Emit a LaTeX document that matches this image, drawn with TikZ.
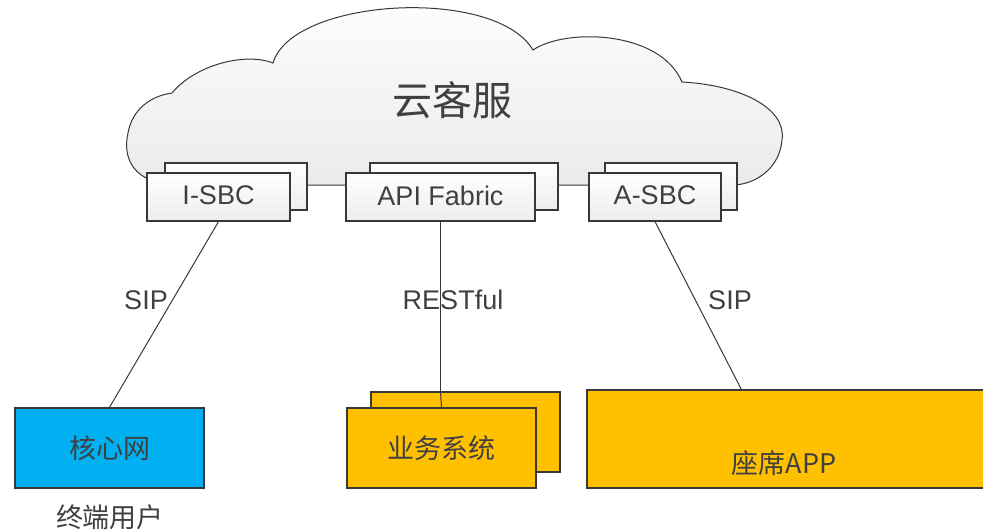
\documentclass[tikz,border=0pt]{standalone}
\usepackage{fontspec}
\setmainfont{Liberation Sans}
\newfontfamily\cjk{Noto Sans CJK SC}
\usetikzlibrary{positioning}
\definecolor{txt}{HTML}{404040}
\definecolor{edge}{HTML}{383838}
\definecolor{netblue}{HTML}{00B0F0}
\definecolor{bizorange}{HTML}{FFC000}
\tikzset{
  graybox/.style={draw=edge, line width=1.3pt, top color=white, bottom color=gray!14,
    inner sep=0pt, text=txt, font=\fontsize{27}{30}\selectfont},
  colbox/.style={draw=edge, line width=1.3pt, inner sep=0pt, text=txt,
    font=\cjk\fontsize{27}{30}\selectfont},
  link/.style={draw=edge, line width=1pt},
  lbl/.style={text=txt, inner sep=0pt, font=\fontsize{27}{30}\selectfont},
}
\begin{document}
\begin{tikzpicture}[x=1pt,y=-1pt]
\useasboundingbox (0,0) rectangle (983,531);
% cloud
\path[draw=edge, line width=1pt, top color=white, bottom color=gray!16]
  (175,185) .. controls (135,183) and (122,160) .. (128,133)
  .. controls (132,110) and (150,96) .. (172,93)
  .. controls (195,65) and (245,52) .. (273,63)
  .. controls (292,-2) and (495,-14) .. (533,50)
  .. controls (565,28) and (660,30) .. (682,82)
  .. controls (740,85) and (787,108) .. (782,140)
  .. controls (780,165) and (760,183) .. (735,185)
  -- cycle;
\node[text=txt, font=\cjk\fontsize{40}{44}\selectfont] (cloudt) at (452,100) {云客服};
% top boxes
\node[graybox, minimum width=142pt, minimum height=47pt] (isbcb) at (236,186.5) {};
\node[graybox, minimum width=143pt, minimum height=48pt, text depth=3pt] (isbc) at (218.5,197) {I-SBC};
\node[graybox, minimum width=188pt, minimum height=47pt] (apib) at (464,186.5) {};
\node[graybox, minimum width=189pt, minimum height=48pt, text depth=3pt] (api) at (440.5,197) {API Fabric};
\node[graybox, minimum width=132pt, minimum height=47pt] (asbcb) at (671,186.5) {};
\node[graybox, minimum width=132pt, minimum height=48pt, text depth=3pt] (asbc) at (655,197) {A-SBC};
% bottom boxes
\node[colbox, fill=netblue, minimum width=189pt, minimum height=80pt] (core) at (109.5,448) {核心网};
\node[lbl, font=\cjk\fontsize{27}{30}\selectfont] (user) at (110,517) {终端用户};
\node[colbox, fill=bizorange, minimum width=189pt, minimum height=80pt] (bizb) at (465.5,432) {};
\draw[link] (api.south) -- (api.south |- bizb.north);
\node[colbox, fill=bizorange, minimum width=189pt, minimum height=80pt] (biz) at (441.5,448) {业务系统};
\draw[link] (api.south |- bizb.north) -- (biz.north);
\node[colbox, fill=bizorange, minimum width=398pt, minimum height=98pt] (app) at (786,439) {};
\node[lbl, font=\cjk\fontsize{27}{30}\selectfont] (appt) at (784,463) {座席APP};
% connectors
\draw[link] (isbc.south) -- (core.north);
\draw[link] (asbc.south) -- ([xshift=155pt]app.north west);
% labels
\node[lbl] (sip1) at (146,300) {SIP};
\node[lbl] (rest) at (453,300) {RESTful};
\node[lbl] (sip2) at (730,300) {SIP};
\end{tikzpicture}
\end{document}
